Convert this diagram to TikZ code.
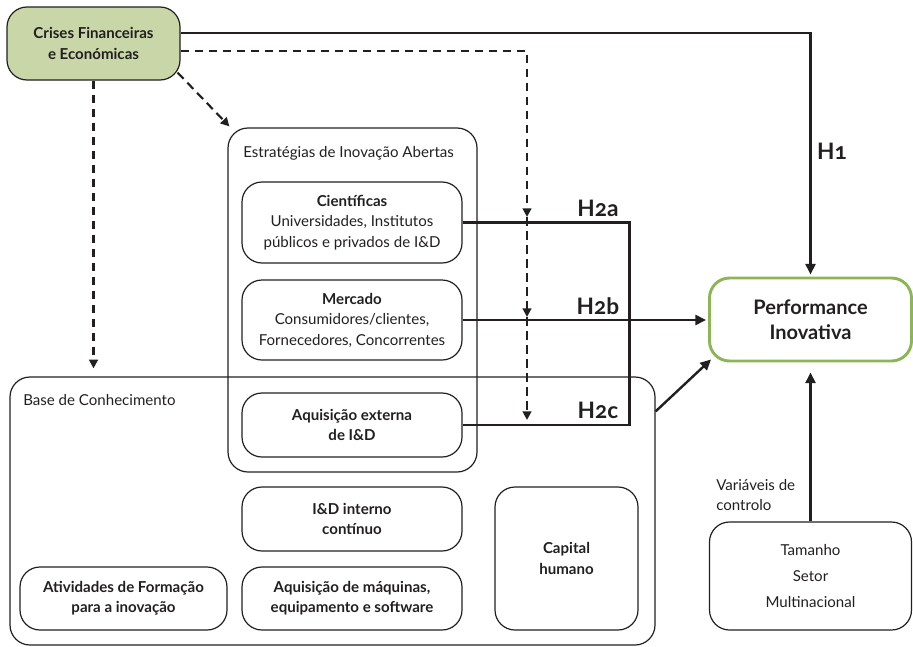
\documentclass[tikz,border=0pt]{standalone}
\usepackage{fontspec}
\setmainfont{Lato}
\newfontfamily\hfont[Numbers=OldStyle]{Lato}
\usetikzlibrary{arrows.meta}
\definecolor{crisesgreen}{HTML}{C8D6A8}
\definecolor{perfgreen}{HTML}{8DB456}
\definecolor{ink}{HTML}{231F20}
\begin{document}
\begin{tikzpicture}[x=0.75pt,y=-0.75pt,
  every node/.style={text=ink},
  box/.style={draw=ink, line width=0.9pt, rounded corners=15pt, align=center, inner sep=0pt, font=\fontsize{11.3}{15.4}\selectfont},
  bbox/.style={box, font=\bfseries\fontsize{11.3}{15.2}\selectfont},
  plain/.style={inner sep=0pt, font=\fontsize{11.3}{15}\selectfont},
  conn/.style={draw=ink, line width=1.8pt, -{Triangle[length=8pt,width=7.5pt]}},
  solidline/.style={draw=ink, line width=1.8pt},
  dsh/.style={draw=ink, line width=1.6pt, dash pattern=on 6.5pt off 4pt, -{Triangle[length=6.5pt,width=6.5pt]}},
  hlab/.style={inner sep=0pt, font=\hfont\bfseries\fontsize{17}{19}\selectfont}]
\useasboundingbox (0,0) rectangle (913,646);
% containers
\node[box, minimum width=483.75pt, minimum height=201pt] (base) at (332.5,511) {};
\node[plain, anchor=west] (baselab) at (23,400) {Base de Conhecimento};
\node[box, minimum width=186.75pt, minimum height=258pt] (estr) at (352.5,300) {};
\node[plain, anchor=west] (estrlab) at (243,153) {Estratégias de Inovação Abertas};
% boxes
\node[bbox, fill=crisesgreen, minimum width=129.75pt, minimum height=54.75pt] (crises) at (93.5,43.5) {Crises Financeiras\\e Económicas};
\node[box, minimum width=165pt, minimum height=60.75pt] (cien) at (352,222.5) {\textbf{Científicas}\\Universidades, Institutos\\públicos e privados de I\&D};
\node[box, minimum width=165pt, minimum height=60pt] (merc) at (352,320) {\textbf{Mercado}\\Consumidores/clientes,\\Fornecedores, Concorrentes};
\node[bbox, minimum width=165pt, minimum height=48pt] (aqext) at (352,425) {Aquisição externa\\de I\&D};
\node[bbox, minimum width=165pt, minimum height=48pt] (idint) at (352,519) {I\&D interno\\contínuo};
\node[bbox, minimum width=165pt, minimum height=47.25pt] (maq) at (352,598.5) {Aquisição de máquinas,\\equipamento e software};
\node[bbox, minimum width=155.25pt, minimum height=47.25pt] (ativ) at (123.5,598.5) {Atividades de Formação\\para a inovação};
\node[bbox, minimum width=107.25pt, minimum height=107.25pt] (cap) at (566.5,558.5) {Capital\\humano};
\node[box, draw=perfgreen, line width=2.2pt, minimum width=151.5pt, minimum height=62.25pt, font=\bfseries\fontsize{15}{18.75}\selectfont] (perf) at (810.5,319.5) {Performance\\Inovativa};
\node[box, minimum width=151.5pt, minimum height=81pt, font=\fontsize{11.3}{19.5}\selectfont] (ctrl) at (810.5,576) {Tamanho\\Setor\\Multinacional};
\node[plain, anchor=west, align=left] (varlab) at (716,495) {Variáveis de\\controlo};
% hypothesis labels
\node[hlab] (h1) at (832,151) {H1};
\node[hlab] (h2a) at (598,208) {H2a};
\node[hlab] (h2b) at (598,306) {H2b};
\node[hlab] (h2c) at (598,410) {H2c};
% coordinates for dashed moderation line
\coordinate (da) at (527,217);
\coordinate (db) at (527,317);
\coordinate (dc) at (527,420);
% connectors
\draw[conn, shorten >=1.5pt] ([yshift=7.875pt]crises.east) -| (perf.north);
\draw[dsh] ([yshift=-5.625pt]crises.east) -| (da);
\draw[dsh] (da) -- (db);
\draw[dsh] (db) -- (dc);
\draw[dsh] ([xshift=-2.25pt,yshift=6pt]crises.south east) -- ([xshift=1.5pt,yshift=0.75pt]estr.north west);
\draw[dsh] (crises.south) -- ([yshift=6pt]crises.south |- base.north);
\draw[solidline] (cien.east) -- ++(167,0) |- (aqext.east);
\draw[conn, shorten >=1.5pt] (merc.east) -- (merc.east -| perf.west);
\draw[conn] ([yshift=-26.25pt]base.north east) -- ([xshift=2.25pt,yshift=2.25pt]perf.south west);
\draw[conn, shorten >=7.5pt] (ctrl.north) -- (perf.south);
\end{tikzpicture}
\end{document}
